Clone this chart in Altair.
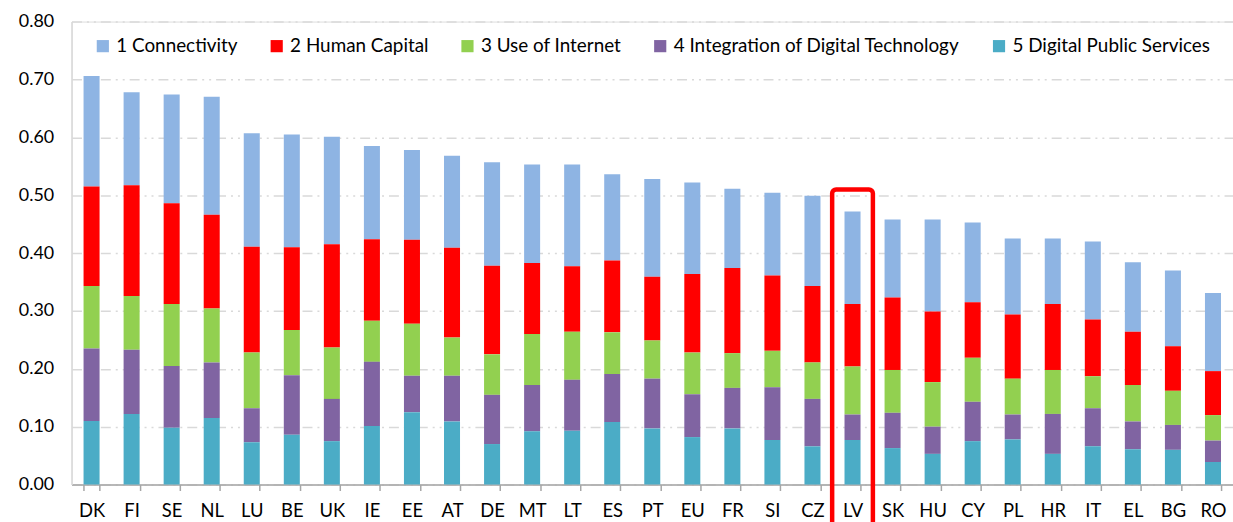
import altair as alt
import pandas as pd

countries = ["DK", "FI", "SE", "NL", "LU", "BE", "UK", "IE", "EE", "AT", "DE", "MT", "LT", "ES",
             "PT", "EU", "FR", "SI", "CZ", "LV", "SK", "HU", "CY", "PL", "HR", "IT", "EL", "BG", "RO"]

series = ["1 Connectivity", "2 Human Capital", "3 Use of Internet",
          "4 Integration of Digital Technology", "5 Digital Public Services"]

connectivity = [0.191, 0.161, 0.188, 0.204, 0.196, 0.195, 0.186, 0.161, 0.155, 0.159, 0.179, 0.170, 0.176, 0.149,
                0.169, 0.158, 0.137, 0.143, 0.156, 0.160, 0.135, 0.159, 0.138, 0.131, 0.113, 0.135, 0.120, 0.131, 0.135]
human_capital = [0.172, 0.191, 0.174, 0.162, 0.183, 0.143, 0.178, 0.141, 0.145, 0.155, 0.153, 0.123, 0.113, 0.124,
                 0.110, 0.136, 0.147, 0.130, 0.132, 0.108, 0.125, 0.122, 0.096, 0.111, 0.114, 0.098, 0.092, 0.077, 0.076]
use_internet = [0.108, 0.093, 0.107, 0.093, 0.096, 0.078, 0.089, 0.071, 0.090, 0.066, 0.070, 0.088, 0.083, 0.072,
                0.066, 0.072, 0.060, 0.063, 0.063, 0.083, 0.074, 0.077, 0.076, 0.062, 0.076, 0.055, 0.063, 0.059, 0.044]
integration = [0.125, 0.111, 0.107, 0.096, 0.059, 0.103, 0.073, 0.111, 0.063, 0.079, 0.085, 0.080, 0.088, 0.083,
               0.086, 0.074, 0.070, 0.091, 0.082, 0.044, 0.061, 0.047, 0.068, 0.043, 0.069, 0.066, 0.048, 0.043, 0.037]
public_services = [0.110, 0.122, 0.098, 0.115, 0.073, 0.086, 0.075, 0.101, 0.125, 0.109, 0.070, 0.092, 0.093, 0.108,
                   0.097, 0.082, 0.097, 0.077, 0.066, 0.077, 0.063, 0.053, 0.075, 0.078, 0.053, 0.066, 0.061, 0.060, 0.039]

colors = ["#8EB4E3", "#FF0000", "#92D050", "#8064A2", "#4BACC6"]

highlight_country = "LV"
highlight_top = 0.51
highlight_bottom = -0.12

y_ticks = [0.0, 0.1, 0.2, 0.3, 0.4, 0.5, 0.6, 0.7, 0.8]

rows = []
for s_idx, (name, vals) in enumerate(zip(series, [connectivity, human_capital, use_internet,
                                                    integration, public_services])):
    for c, v in zip(countries, vals):
        rows.append({"country": c, "series": name, "value": v, "rank": len(series) - s_idx})
df = pd.DataFrame(rows)

FONT = "Lato"

x_enc = alt.X("country:N", sort=countries, title=None,
              scale=alt.Scale(paddingInner=0.6, paddingOuter=0.3, round=False),
              axis=alt.Axis(labelAngle=0, labelFontSize=18.5, labelColor="#000000", labelFont=FONT,
                            domainColor="#A6A6A6", domainWidth=1.5, tickColor="#A6A6A6", tickWidth=1.5,
                            tickSize=6, tickBand="extent", labelPadding=11, grid=False))

bars = alt.Chart(df).mark_bar().encode(
    x=x_enc,
    y=alt.Y("value:Q", stack="zero", title=None,
            scale=alt.Scale(domain=[0, 0.8], nice=False),
            axis=alt.Axis(values=y_ticks, format=".2f", labelFontSize=18, labelColor="#000000",
                          labelFont=FONT, domainColor="#D9D9D9", domainWidth=1.5, ticks=False,
                          labelPadding=18, gridColor="#D9D9D9", gridWidth=1.5,
                          gridDash=[10, 5, 2, 5, 2, 5])),
    color=alt.Color("series:N", scale=alt.Scale(domain=series, range=colors),
                    legend=alt.Legend(title=None, orient="none", direction="horizontal",
                                      legendX=22, legendY=15, symbolType="square", symbolSize=150,
                                      symbolStrokeWidth=0, labelFontSize=19, labelFont=FONT,
                                      labelColor="#000000", columnPadding=29, labelLimit=400)),
    order=alt.Order("rank:Q", sort="ascending"),
)

box_df = pd.DataFrame({"country": [highlight_country], "top": [highlight_top],
                       "bottom": [highlight_bottom]})
box = alt.Chart(box_df).mark_bar(filled=False, stroke="#FF0000", strokeWidth=4.5, width=41,
                                 cornerRadiusTopLeft=4, cornerRadiusTopRight=4, clip=False).encode(
    x=alt.X("country:N", sort=countries),
    y=alt.Y("top:Q"),
    y2=alt.Y2("bottom:Q"),
)

chart = alt.layer(bars, box).properties(
    width=1169, height=466,
    autosize=alt.AutoSizeParams(type="none"),
    padding={"left": 72, "top": 20, "right": 0, "bottom": 36},
).configure_view(stroke=None).configure(background="#FFFFFF")

chart.save("out.html", embed_options={"renderer": "svg", "actions": False})
